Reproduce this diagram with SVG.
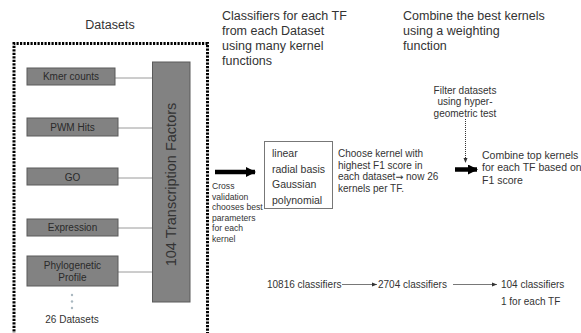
<svg xmlns="http://www.w3.org/2000/svg" width="581" height="333" viewBox="0 0 581 333">
<defs>
<style>
text{font-family:"Liberation Sans",Arial,sans-serif;fill:#333}
.title{font-size:12.5px}
.box{fill:#828282;stroke:#5a5a5a;stroke-width:1}
.boxt{font-size:10px;text-anchor:middle;fill:#2a2a2a}
.conn{stroke:#9a9a9a;stroke-width:1;fill:none}
.sm{font-size:8.6px}
.md{font-size:10px}
.thin{stroke:#555;stroke-width:0.8;fill:none}
</style>
<marker id="ah" markerWidth="6" markerHeight="6" refX="5" refY="3" orient="auto" markerUnits="userSpaceOnUse">
<path d="M0,1 L5,3 L0,5 Z" fill="#333"/>
</marker>
<marker id="big" markerWidth="10" markerHeight="10" refX="9" refY="5" orient="auto" markerUnits="userSpaceOnUse">
<path d="M0,0 L10,5 L0,10 Z" fill="#000"/>
</marker>
</defs>

<g id="titles">
<text class="title" x="110" y="28.5" text-anchor="middle">Datasets</text>
<text class="title" x="222" y="19.5">Classifiers for each TF</text>
<text class="title" x="222" y="34.5">from each Dataset</text>
<text class="title" x="222" y="49.5">using many kernel</text>
<text class="title" x="222" y="64.5">functions</text>
<text class="title" x="403" y="19.5">Combine the best kernels</text>
<text class="title" x="403" y="34.5">using a weighting</text>
<text class="title" x="403" y="49.5">function</text>
</g>

<g id="dataset-frame">
<path d="M14,335 L14,43.5 L207.5,43.5 L207.5,335" fill="none" stroke="#000" stroke-width="3" stroke-dasharray="2.2 1.3"/>
</g>

<g id="connectors">
<line class="conn" x1="115" y1="78" x2="153" y2="78"/>
<line class="conn" x1="118" y1="128" x2="153" y2="128"/>
<line class="conn" x1="118" y1="178" x2="153" y2="178"/>
<line class="conn" x1="118" y1="228" x2="153" y2="228"/>
<line class="conn" x1="118" y1="272" x2="153" y2="272"/>
<line x1="215" y1="172" x2="255" y2="172" stroke="#000" stroke-width="4.5" marker-end="url(#big)"/>
<line x1="465.5" y1="119" x2="465.5" y2="163" stroke="#333" stroke-width="1" stroke-dasharray="1 1" marker-end="url(#ah)"/>
<line x1="455" y1="169.5" x2="477" y2="169.5" stroke="#000" stroke-width="4.5" marker-end="url(#big)"/>
<line class="thin" x1="342" y1="284.5" x2="377" y2="284.5" marker-end="url(#ah)"/>
<line class="thin" x1="453" y1="284.5" x2="497" y2="284.5" marker-end="url(#ah)"/>
</g>

<g id="kmer">
<rect class="box" x="27" y="68" width="88" height="17"/>
<text class="boxt" x="71" y="80">Kmer counts</text>
</g>
<g id="pwm">
<rect class="box" x="27" y="118" width="91" height="18"/>
<text class="boxt" x="72.5" y="131">PWM Hits</text>
</g>
<g id="go">
<rect class="box" x="27" y="168" width="91" height="17"/>
<text class="boxt" x="72.5" y="180.5">GO</text>
</g>
<g id="expression">
<rect class="box" x="27" y="219" width="91" height="17"/>
<text class="boxt" x="72.5" y="231">Expression</text>
</g>
<g id="phylogenetic">
<rect class="box" x="27" y="256" width="91" height="30"/>
<text class="boxt" x="72.5" y="268.5">Phylogenetic</text>
<text class="boxt" x="72.5" y="281">Profile</text>
</g>
<g id="more-datasets">
<circle cx="72" cy="295" r="1.2" fill="#a9b8c0"/>
<circle cx="72" cy="301.5" r="1.2" fill="#a9b8c0"/>
<circle cx="72" cy="308" r="1.2" fill="#a9b8c0"/>
<text class="md" x="72" y="323" text-anchor="middle">26 Datasets</text>
</g>

<g id="tf-bar">
<rect class="box" x="152.5" y="62" width="37.5" height="240"/>
<text x="176" y="184.5" font-size="14.5" text-anchor="middle" fill="#1a1a1a" transform="rotate(-90 176 184.5)">104 Transcription Factors</text>
</g>

<g id="cross-validation">
<text class="sm" x="212" y="189">Cross</text>
<text class="sm" x="212" y="199.5">validation</text>
<text class="sm" x="212" y="210">chooses best</text>
<text class="sm" x="212" y="220.5">parameters</text>
<text class="sm" x="212" y="231">for each</text>
<text class="sm" x="212" y="241.5">kernel</text>
</g>

<g id="kernels">
<rect x="264.5" y="141.5" width="68" height="67" fill="#fff" stroke="#777" stroke-width="1"/>
<text x="272" y="157" font-size="10.5">linear</text>
<text x="272" y="172.5" font-size="10.5">radial basis</text>
<text x="272" y="188" font-size="10.5">Gaussian</text>
<text x="272" y="203.5" font-size="10.5">polynomial</text>
</g>

<g id="choose-kernel">
<text class="md" x="338" y="157">Choose kernel with</text>
<text class="md" x="338" y="168.5">highest F1 score in</text>
<text class="md" x="338" y="180">each dataset<tspan font-family="'DejaVu Sans',sans-serif" font-size="9.5">→</tspan> now 26</text>
<text class="md" x="338" y="191.5">kernels per TF.</text>
</g>

<g id="filter">
<text class="md" x="465" y="93.5" text-anchor="middle">Filter datasets</text>
<text class="md" x="465" y="105" text-anchor="middle">using hyper-</text>
<text class="md" x="465" y="116.5" text-anchor="middle">geometric test</text>
</g>

<g id="combine">
<text x="482" y="159" font-size="10.5">Combine top kernels</text>
<text x="482" y="171" font-size="10.5">for each TF based on</text>
<text x="482" y="183.5" font-size="10.5">F1 score</text>
</g>

<g id="counts">
<text class="md" x="267" y="288">10816 classifiers</text>
<text class="md" x="378" y="288">2704 classifiers</text>
<text class="md" x="501" y="288">104 classifiers</text>
<text class="md" x="501" y="305">1 for each TF</text>
</g>
</svg>
